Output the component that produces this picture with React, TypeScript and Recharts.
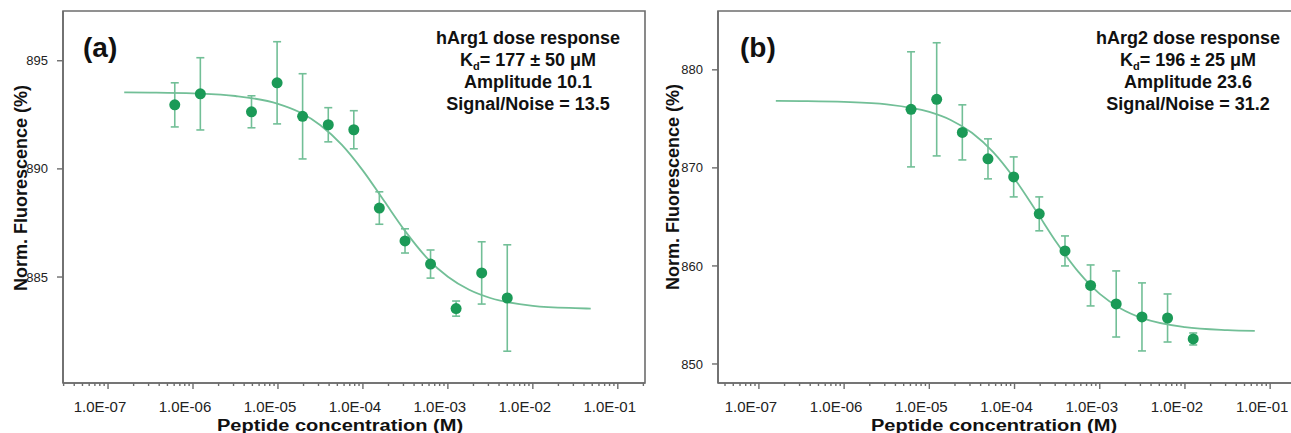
import React from 'react';
import {
  ComposedChart,
  Line,
  Scatter,
  ErrorBar,
  XAxis,
  YAxis,
  ReferenceArea,
} from 'recharts';

// ─── Panel (a) · hArg1 dose response ─────────────────────────────────────────

const concA = [6.1e-7, 1.22e-6, 4.88e-6, 9.77e-6, 1.95e-5, 3.91e-5, 7.81e-5, 1.56e-4, 3.13e-4, 6.25e-4, 1.25e-3, 2.5e-3, 5e-3];
const fluorA = [892.96, 893.47, 892.64, 893.98, 892.43, 892.04, 891.81, 888.19, 886.67, 885.6, 883.54, 885.19, 884.03];
const errA = [1.02, 1.67, 0.74, 1.9, 1.97, 0.79, 0.88, 0.75, 0.56, 0.65, 0.35, 1.44, 2.46];

const fitConcA = [1.55e-7, 3.16e-7, 1e-6, 3.16e-6, 1e-5, 1.78e-5, 3.16e-5, 5.62e-5, 1e-4, 1.78e-4, 3.16e-4, 5.62e-4, 1e-3, 1.78e-3, 3.16e-3, 1e-2, 3.16e-2, 4.8e-2];
const fitA = [893.54, 893.53, 893.49, 893.37, 893.01, 892.63, 892.02, 891.12, 889.92, 888.51, 887.11, 885.9, 885.01, 884.41, 884.03, 883.67, 883.56, 883.54];

const yTicksA = [885, 890, 895];

// ─── Panel (b) · hArg2 dose response ─────────────────────────────────────────

const concB = [6.1e-6, 1.22e-5, 2.44e-5, 4.88e-5, 9.77e-5, 1.95e-4, 3.91e-4, 7.81e-4, 1.56e-3, 3.13e-3, 6.25e-3, 1.25e-2];
const fluorB = [875.97, 876.99, 873.62, 870.92, 869.08, 865.31, 861.53, 858.01, 856.12, 854.8, 854.69, 852.55];
const errB = [5.87, 5.77, 2.81, 2.04, 2.04, 1.73, 1.53, 2.09, 3.37, 3.47, 2.45, 0.61];

const fitConcB = [1.58e-7, 3.16e-7, 1e-6, 3.16e-6, 1e-5, 1.78e-5, 3.16e-5, 5.62e-5, 1e-4, 1.78e-4, 3.16e-4, 5.62e-4, 1e-3, 1.78e-3, 3.16e-3, 1e-2, 3.16e-2, 6.6e-2];
const fitB = [876.83, 876.81, 876.73, 876.48, 875.71, 874.89, 873.58, 871.6, 868.89, 865.64, 862.31, 859.39, 857.15, 855.64, 854.67, 853.75, 853.45, 853.37];

const yTicksB = [850, 860, 870, 880];

// ─── Shared log axis ─────────────────────────────────────────────────────────

const decades = [1e-8, 1e-7, 1e-6, 1e-5, 1e-4, 1e-3, 1e-2, 1e-1];
const minorSteps = [2, 3, 4, 5, 6, 7, 8, 9];
const majorTicks = [1e-7, 1e-6, 1e-5, 1e-4, 1e-3, 1e-2, 1e-1];
const majorLabels = ['1.0E-07', '1.0E-06', '1.0E-05', '1.0E-04', '1.0E-03', '1.0E-02', '1.0E-01'];

const FONT = "'Liberation Sans', Arial, sans-serif";
const AXIS = '#6d6d6d';
const DOT = '#1b9a57';
const LIGHT = '#72bf97';

const allLogTicks = [...majorTicks, ...decades.flatMap((d) => minorSteps.map((m) => m * d))].sort((a, b) => a - b);

const majorIndex = (v: number) =>
  majorTicks.findIndex((t) => Math.abs(Math.log10(t) - Math.log10(v)) < 1e-6);

// minor ticks are short marks only; decades get a longer mark and a label
const LogTick = ({ x, y, payload }: any) => {
  const idx = majorIndex(payload.value);
  const major = idx >= 0;
  return (
    <g>
      <line x1={x} x2={x} y1={y} y2={y + (major ? 6 : 3)} stroke={AXIS} strokeWidth={1.4} />
      {major && (
        <text x={x - 8} y={y + 29} textAnchor="middle" fontFamily={FONT} fontSize={15} fill="#222">
          {majorLabels[idx]}
        </text>
      )}
    </g>
  );
};

const Dot = ({ cx, cy }: any) => <circle cx={cx} cy={cy} r={5.5} fill={DOT} />;

// ─── One panel ───────────────────────────────────────────────────────────────

interface PanelProps {
  points: { x: number; y: number; err: number }[];
  fit: { x: number; y: number }[];
  xDomain: [number, number];
  yDomain: [number, number];
  yTicks: number[];
}

function Panel({ points, fit, xDomain, yDomain, yTicks }: PanelProps) {
  const ticks = allLogTicks.filter((t) => t >= xDomain[0] && t <= xDomain[1]);
  return (
    <ComposedChart width={655} height={433} margin={{ top: 11, right: 10, bottom: 0, left: 0 }}>
      <XAxis
        dataKey="x"
        type="number"
        scale="log"
        domain={xDomain}
        allowDataOverflow
        ticks={ticks}
        interval={0}
        tick={<LogTick />}
        tickLine={false}
        tickSize={0}
        tickMargin={0}
        height={50}
        axisLine={{ stroke: AXIS, strokeWidth: 1.6 }}
      />
      <YAxis
        dataKey="y"
        type="number"
        domain={yDomain}
        allowDataOverflow
        ticks={yTicks}
        width={63}
        tickSize={6}
        tickMargin={9}
        tick={{ fontFamily: FONT, fontSize: 13, fill: '#222' }}
        tickLine={{ stroke: AXIS, strokeWidth: 1.4 }}
        axisLine={{ stroke: AXIS, strokeWidth: 1.6 }}
      />
      {/* plot frame */}
      <ReferenceArea
        x1={xDomain[0]}
        x2={xDomain[1]}
        y1={yDomain[0]}
        y2={yDomain[1]}
        fill="none"
        stroke={AXIS}
        strokeWidth={1.6}
        ifOverflow="visible"
      />
      <Line
        data={fit}
        dataKey="y"
        type="monotone"
        stroke={LIGHT}
        strokeWidth={1.8}
        dot={false}
        activeDot={false}
        isAnimationActive={false}
      />
      <Scatter data={points} dataKey="y" shape={<Dot />} isAnimationActive={false}>
        <ErrorBar dataKey="err" direction="y" width={4} stroke={LIGHT} strokeWidth={1.6} />
      </Scatter>
    </ComposedChart>
  );
}

const zipPoints = (xs: number[], ys: number[], es: number[]) =>
  xs.map((x, i) => ({ x, y: ys[i], err: es[i] }));
const zipFit = (xs: number[], ys: number[]) => xs.map((x, i) => ({ x, y: ys[i] }));

const boldText = { fontFamily: FONT, fontWeight: 700, fill: '#111' } as const;

function Annotation({ cx, name, kd, amp, sn }: { cx: number; name: string; kd: string; amp: string; sn: string }) {
  return (
    <g style={boldText} fontSize={18} textAnchor="middle">
      <text x={cx} y={44}>{name}</text>
      <text x={cx} y={66}>
        K<tspan fontSize={11} dy={4}>d</tspan>
        <tspan dy={-4}>{`= ${kd} μM`}</tspan>
      </text>
      <text x={cx} y={88}>{`Amplitude ${amp}`}</text>
      <text x={cx} y={110}>{`Signal/Noise = ${sn}`}</text>
    </g>
  );
}

// the x title in the figure is a wide bold face, so the glyphs are stretched
const XTitle = ({ cx }: { cx: number }) => (
  <text
    transform={`translate(${cx} 430.5) scale(1.18 1)`}
    fontSize={17}
    textAnchor="middle"
    style={boldText}
  >
    Peptide concentration (M)
  </text>
);

const YTitle = ({ x, y }: { x: number; y: number }) => (
  <text x={x} y={y} fontSize={18} textAnchor="middle" transform={`rotate(-90 ${x} ${y})`} style={boldText}>
    Norm. Fluorescence (%)
  </text>
);

export default function App() {
  const pointsA = zipPoints(concA, fluorA, errA);
  const pointsB = zipPoints(concB, fluorB, errB);
  return (
    <div
      style={{
        position: 'absolute',
        left: 0,
        top: 0,
        width: 1291,
        height: 433,
        overflow: 'hidden',
        background: '#fff',
      }}
    >
      <div style={{ display: 'flex', width: 1310 }}>
        <Panel
          points={pointsA}
          fit={zipFit(fitConcA, fitA)}
          xDomain={[2.95e-8, 0.209]}
          yDomain={[880.1, 897.3]}
          yTicks={yTicksA}
        />
        <Panel
          points={pointsB}
          fit={zipFit(fitConcB, fitB)}
          xDomain={[3.31e-8, 0.224]}
          yDomain={[848.06, 886.0]}
          yTicks={yTicksB}
        />
      </div>

      {/* titles and annotations */}
      <svg
        width={1291}
        height={433}
        style={{ position: 'absolute', left: 0, top: 0, pointerEvents: 'none' }}
      >
        <text x={83} y={57} fontSize={28} style={boldText}>(a)</text>
        <text x={740} y={57} fontSize={28} style={boldText}>(b)</text>

        <Annotation cx={528} name="hArg1 dose response" kd="177 ± 50" amp="10.1" sn="13.5" />
        <Annotation cx={1188} name="hArg2 dose response" kd="196 ± 25" amp="23.6" sn="31.2" />

        <XTitle cx={340} />
        <XTitle cx={994} />

        <YTitle x={26.5} y={188} />
        <YTitle x={679} y={187} />
      </svg>
    </div>
  );
}
